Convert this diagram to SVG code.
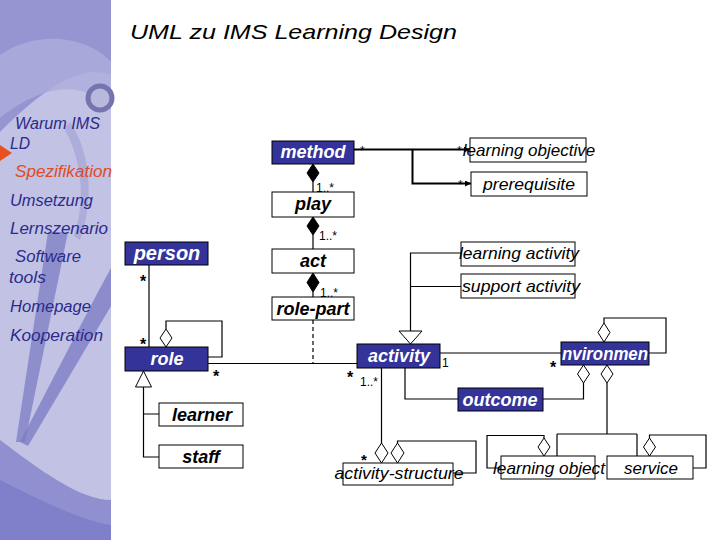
<svg xmlns="http://www.w3.org/2000/svg" width="720" height="540" viewBox="0 0 720 540">
<style>
.nb{fill:#333399;stroke:#000;stroke-width:1}
.wb{fill:#fff;stroke:#000;stroke-width:1}
.tw{fill:#fff;font:italic bold 18px "Liberation Sans",Arial,sans-serif;text-anchor:middle}
.tb{fill:#000;font:italic bold 18px "Liberation Sans",Arial,sans-serif;text-anchor:middle}
.tr{fill:#000;font:italic 17px "Liberation Sans",Arial,sans-serif;text-anchor:middle}
.ln{fill:none;stroke:#000;stroke-width:1.2}
.thick{fill:none;stroke:#000;stroke-width:2}
.dh{fill:#fff;stroke:#000;stroke-width:1}
.df{fill:#000;stroke:#000;stroke-width:1}
.m{fill:#000;font:12px "Liberation Sans",Arial,sans-serif}
.st{fill:#000;font:bold 16px "Liberation Sans",Arial,sans-serif;text-anchor:middle}
.nav{fill:#2b2b8a;font:italic 16px "Liberation Sans",Arial,sans-serif}
</style>
<defs>
<marker id="arr" viewBox="0 0 8 8" refX="8" refY="4" markerWidth="6" markerHeight="6" orient="auto" markerUnits="userSpaceOnUse">
<path d="M0,0 L8,4 L0,8 z" fill="#000"/>
</marker>
</defs>
<rect width="720" height="540" fill="#fff"/>

<g id="sidebar">
<rect x="0" y="0" width="111" height="540" fill="#c2c2e4"/>
<path d="M0,0 H111 V75 C80,62 40,92 0,132 Z" fill="#9595d2"/>
<path d="M0,55 C40,28 90,38 111,62 V110 C90,84 50,78 0,118 Z" fill="#acacdc" opacity="0.8"/>
<circle cx="100" cy="98" r="12" fill="#b8b8dc" stroke="#7474b0" stroke-width="5"/>
<path d="M70,122 C90,150 95,200 80,240 L74,236 C86,200 82,160 64,128 Z" fill="#a4a4d6" opacity="0.7"/>
<polygon points="48,232 68,232 25,442 16,442" fill="#7c7cc6" opacity="0.75"/>
<polygon points="98,292 111,268 111,306 28,446 20,442" fill="#7a7ac4" opacity="0.75"/>
<path d="M0,440 C40,470 80,500 111,500 V540 H0 Z" fill="#9090d0"/>
<path d="M0,480 C40,500 80,520 111,525 V540 H0 Z" fill="#8080ca"/>
<polygon points="0,145 0,161 12,153" fill="#e8501e"/>
<text class="nav" x="15" y="129" textLength="85" lengthAdjust="spacingAndGlyphs">Warum IMS</text>
<text class="nav" x="10" y="149" textLength="20" lengthAdjust="spacingAndGlyphs">LD</text>
<text class="nav" x="15" y="177" textLength="97" lengthAdjust="spacingAndGlyphs" style="fill:#e04a24">Spezifikation</text>
<text class="nav" x="10" y="206" textLength="83" lengthAdjust="spacingAndGlyphs">Umsetzung</text>
<text class="nav" x="10" y="234" textLength="98" lengthAdjust="spacingAndGlyphs">Lernszenario</text>
<text class="nav" x="15" y="262" textLength="66" lengthAdjust="spacingAndGlyphs">Software</text>
<text class="nav" x="9" y="283" textLength="37" lengthAdjust="spacingAndGlyphs">tools</text>
<text class="nav" x="10" y="312" textLength="81" lengthAdjust="spacingAndGlyphs">Homepage</text>
<text class="nav" x="10" y="341" textLength="93" lengthAdjust="spacingAndGlyphs">Kooperation</text>
</g>

<text id="title" x="130" y="39" textLength="327" lengthAdjust="spacingAndGlyphs" style="fill:#000;font:italic 21px 'Liberation Sans',Arial,sans-serif">UML zu IMS Learning Design</text>

<g id="connectors">
<path class="thick" d="M354,149.5 H470" marker-end="url(#arr)"/>
<path class="thick" d="M412.5,149.5 V183.5 H471" marker-end="url(#arr)"/>
<text class="m" x="360" y="155">*</text>
<text class="m" x="457" y="155">*</text>
<text class="m" x="458" y="189">*</text>
<path class="ln" d="M313,182 V192"/>
<polygon class="df" points="313,164 319,173 313,182 307,173"/>
<text class="m" x="316" y="192">1..*</text>
<path class="ln" d="M313,235 V249"/>
<polygon class="df" points="313,217 319,226 313,235 307,226"/>
<text class="m" x="319" y="240">1..*</text>
<path class="ln" d="M313,292 V297"/>
<polygon class="df" points="313,273 319,282.5 313,292 307,282.5"/>
<text class="m" x="320" y="297">1..*</text>
<path class="ln" d="M313,320 V363" stroke-dasharray="4,3"/>
<path class="ln" d="M149,265 V347"/>
<text class="st" x="143" y="287">*</text>
<text class="st" x="143" y="350">*</text>
<path class="ln" d="M166,329 V321 H222 V357 H208"/>
<polygon class="dh" points="166,329 172,338 166,347 160,338"/>
<path class="ln" d="M208,363.5 H357"/>
<text class="st" x="216" y="382">*</text>
<text class="st" x="350" y="383">*</text>
<text class="m" x="360" y="386">1..*</text>
<path class="ln" d="M143.5,387 V457 H159 M143.5,414 H159"/>
<polygon class="dh" points="143.5,371 151.5,387 135.5,387"/>
<path class="ln" d="M410.5,331 V253 H461 M410.5,286.5 H461"/>
<polygon class="dh" points="399,331 422,331 410.5,344"/>
<path class="ln" d="M440,353 H561"/>
<text class="m" x="442" y="367">1</text>
<text class="st" x="553" y="373">*</text>
<path class="ln" d="M604,323 V318 H666 V353 H649"/>
<polygon class="dh" points="604,323 610,332.5 604,342 598,332.5"/>
<path class="ln" d="M405,368 V399 H458 M543,399 H583.5 V383"/>
<polygon class="dh" points="583.5,365 589.5,374 583.5,383 577.5,374"/>
<path class="ln" d="M607,383 V434 M557,434 H637 M557,434 V456 M637,434 V456"/>
<polygon class="dh" points="607,365 613,374 607,383 601,374"/>
<path class="ln" d="M381.5,368 V443"/>
<polygon class="dh" points="381.5,443 388,453 381.5,463 375,453"/>
<path class="ln" d="M397.5,443 V441 H476 V473 H453"/>
<polygon class="dh" points="397.5,443 404,453 397.5,463 391,453"/>
<text class="st" x="364" y="465" style="font-size:15px">*</text>
<path class="ln" d="M544,438 V435.5 H487 V468 H501"/>
<polygon class="dh" points="544,438 550,447 544,456 538,447"/>
<path class="ln" d="M649.5,438 V435 H706 V468 H693"/>
<polygon class="dh" points="649.5,438 655.5,447 649.5,456 643.5,447"/>
</g>

<g id="method"><rect class="nb" x="272" y="141" width="82" height="23"/><text class="tw" x="313" y="158">method</text></g>
<g id="play"><rect class="wb" x="272" y="192" width="82" height="25"/><text class="tb" x="313" y="210">play</text></g>
<g id="act"><rect class="wb" x="272" y="249" width="82" height="24"/><text class="tb" x="313" y="267">act</text></g>
<g id="role-part"><rect class="wb" x="272" y="297" width="82" height="23"/><text class="tb" x="313" y="315">role-part</text></g>
<g id="person"><rect class="nb" x="125" y="242" width="83" height="23"/><text class="tw" x="167" y="260" style="font-size:20px">person</text></g>
<g id="role"><rect class="nb" x="125" y="347" width="83" height="24"/><text class="tw" x="167" y="365">role</text></g>
<g id="learner"><rect class="wb" x="159" y="403" width="84" height="23"/><text class="tb" x="202" y="421">learner</text></g>
<g id="staff"><rect class="wb" x="159" y="445" width="84" height="23"/><text class="tb" x="201" y="463">staff</text></g>
<g id="learning-objective"><rect class="wb" x="470" y="138" width="116" height="24"/><text class="tr" x="529" y="156">learning objective</text></g>
<g id="prerequisite"><rect class="wb" x="471" y="172" width="116" height="24"/><text class="tr" x="529" y="190" textLength="92" lengthAdjust="spacingAndGlyphs">prerequisite</text></g>
<g id="learning-activity"><rect class="wb" x="461" y="242" width="114" height="24"/><text class="tr" x="519" y="259" textLength="120" lengthAdjust="spacingAndGlyphs">learning activity</text></g>
<g id="support-activity"><rect class="wb" x="461" y="274" width="114" height="24"/><text class="tr" x="521" y="292" textLength="118" lengthAdjust="spacingAndGlyphs">support activity</text></g>
<g id="activity"><rect class="nb" x="357" y="344" width="83" height="24"/><text class="tw" x="399" y="362">activity</text></g>
<g id="environment"><rect class="nb" x="561" y="342" width="88" height="23"/><text class="tw" x="605" y="360" textLength="86" lengthAdjust="spacingAndGlyphs">nvironmen</text></g>
<g id="outcome"><rect class="nb" x="458" y="388" width="85" height="23"/><text class="tw" x="500" y="406">outcome</text></g>
<g id="activity-structure"><rect class="wb" x="343" y="463" width="110" height="22"/><text class="tr" x="399" y="479" textLength="129" lengthAdjust="spacingAndGlyphs">activity-structure</text></g>
<g id="learning-object"><rect class="wb" x="501" y="456" width="94" height="23"/><text class="tr" x="549" y="474" textLength="112" lengthAdjust="spacingAndGlyphs">learning object</text></g>
<g id="service"><rect class="wb" x="607" y="456" width="86" height="23"/><text class="tr" x="651" y="474">service</text></g>
</svg>
